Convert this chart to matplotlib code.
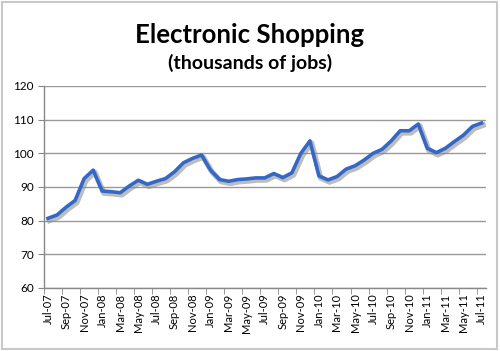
import matplotlib
matplotlib.use("Agg")
import matplotlib.pyplot as plt
import matplotlib.patheffects as pe
from matplotlib.patches import Rectangle
import numpy as np

months = ["Jul-07","Aug-07","Sep-07","Oct-07","Nov-07","Dec-07",
          "Jan-08","Feb-08","Mar-08","Apr-08","May-08","Jun-08",
          "Jul-08","Aug-08","Sep-08","Oct-08","Nov-08","Dec-08",
          "Jan-09","Feb-09","Mar-09","Apr-09","May-09","Jun-09",
          "Jul-09","Aug-09","Sep-09","Oct-09","Nov-09","Dec-09",
          "Jan-10","Feb-10","Mar-10","Apr-10","May-10","Jun-10",
          "Jul-10","Aug-10","Sep-10","Oct-10","Nov-10","Dec-10",
          "Jan-11","Feb-11","Mar-11","Apr-11","May-11","Jun-11","Jul-11"]
jobs = [80.7, 81.7, 84.0, 86.0, 92.5, 95.0,
        88.8, 88.6, 88.3, 90.3, 92.0, 90.8,
        91.7, 92.5, 94.5, 97.2, 98.5, 99.5,
        95.0, 92.2, 91.7, 92.2, 92.4, 92.7,
        92.7, 94.0, 92.8, 94.2, 100.0, 103.7,
        93.3, 92.1, 93.1, 95.3, 96.3, 98.0,
        100.0, 101.2, 103.7, 106.7, 106.7, 108.7,
        101.5, 100.2, 101.5, 103.5, 105.4, 108.0, 109.0]
title = "Electronic Shopping"
subtitle = "(thousands of jobs)"
yticks = [60, 70, 80, 90, 100, 110, 120]

plt.rcParams['font.family'] = ['Lato', 'DejaVu Sans']

fig = plt.figure(figsize=(5.0, 3.51), dpi=100)
ax = fig.add_axes([0.087, 0.1795, 0.885, 0.5755])

x = np.arange(len(months))
ax.plot(x, jobs, color="#3468C8", linewidth=2.6, solid_joinstyle="round",
        path_effects=[pe.SimpleLineShadow(offset=(1.2, -1.5), shadow_color="#888888", alpha=0.55, linewidth=4.0),
                      pe.Normal()], zorder=3)

ax.set_xlim(-0.5, len(months) - 0.5)
ax.set_ylim(60, 120)
ax.set_yticks(yticks)
ax.set_yticklabels([str(v) for v in yticks], fontsize=8.5)
ax.yaxis.grid(True, color="#999999", linewidth=1.0)
ax.set_axisbelow(True)

ax.set_xticks(x[::2])
ax.set_xticklabels(months[::2], rotation=90, fontsize=8)
ax.set_xticks(np.arange(-0.5, len(months), 2), minor=True)
ax.tick_params(axis="x", which="major", length=0, pad=4)
ax.tick_params(axis="x", which="minor", length=4, color="#888888", direction="out")
ax.tick_params(axis="y", which="major", length=4, color="#888888", direction="out", pad=3)

for s in ["top", "right"]:
    ax.spines[s].set_visible(False)
for s in ["left", "bottom"]:
    ax.spines[s].set_color("#888888")
    ax.spines[s].set_linewidth(1.0)

fig.text(0.5, 0.9, title, ha="center", va="center", fontsize=18.5, fontweight="bold")
fig.text(0.5, 0.822, subtitle, ha="center", va="center", fontsize=14, fontweight="bold")

fig.patches.append(Rectangle((0.004, 0.006), 0.99, 0.988, transform=fig.transFigure,
                             fill=False, edgecolor="#c8c8c8", linewidth=1.5))

fig.savefig("out.png", dpi=100)
